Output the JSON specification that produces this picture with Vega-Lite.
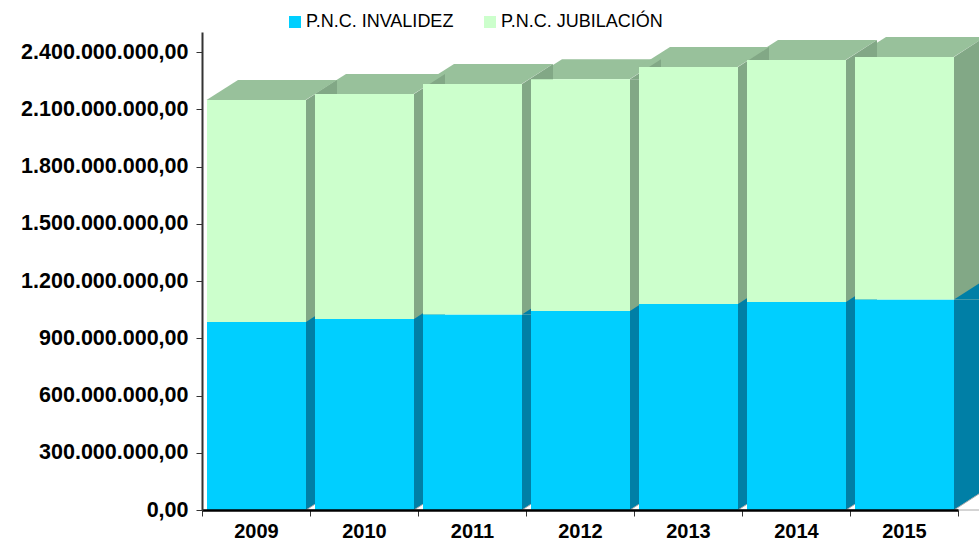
{
"$schema":"https://vega.github.io/schema/vega-lite/v6.json",
"width":756,"height":478,
"padding":{"left":202,"top":32,"right":21,"bottom":32},
"autosize":{"type":"none"},
"background":"white",
"config":{"view":{"stroke":null}},
"data":{"values":[
{"year":"2009","serie":"P.N.C. INVALIDEZ","value":985000000},{"year":"2009","serie":"P.N.C. JUBILACIÓN","value":1163000000},
{"year":"2010","serie":"P.N.C. INVALIDEZ","value":1001000000},{"year":"2010","serie":"P.N.C. JUBILACIÓN","value":1179000000},
{"year":"2011","serie":"P.N.C. INVALIDEZ","value":1024000000},{"year":"2011","serie":"P.N.C. JUBILACIÓN","value":1208000000},
{"year":"2012","serie":"P.N.C. INVALIDEZ","value":1043000000},{"year":"2012","serie":"P.N.C. JUBILACIÓN","value":1215000000},
{"year":"2013","serie":"P.N.C. INVALIDEZ","value":1079000000},{"year":"2013","serie":"P.N.C. JUBILACIÓN","value":1242000000},
{"year":"2014","serie":"P.N.C. INVALIDEZ","value":1090000000},{"year":"2014","serie":"P.N.C. JUBILACIÓN","value":1268000000},
{"year":"2015","serie":"P.N.C. INVALIDEZ","value":1103000000},{"year":"2015","serie":"P.N.C. JUBILACIÓN","value":1271000000}
]},
"transform":[{"stack":"value","groupby":["year"],"sort":[{"field":"serie","order":"ascending"}],"as":["y0","y1"]}],
"encoding":{
"x":{"field":"year","type":"ordinal","scale":{"type":"band","paddingInner":0,"paddingOuter":0},"title":null,
"axis":{"labelAngle":0,"tickBand":"extent","labelFont":"Liberation Sans","labelFontWeight":"bold","labelFontSize":20,"labelColor":"#000","labelPadding":5,"tickColor":"#333","tickSize":6,"tickWidth":1,"domainColor":"#000","domainWidth":2.5,"zindex":1}},
"y":{"field":"y1","type":"quantitative","scale":{"domain":[0,2505000000],"nice":false},"title":null,
"axis":{"values":[0,300000000,600000000,900000000,1200000000,1500000000,1800000000,2100000000,2400000000],"labelExpr":"replace(replace(replace(format(datum.value,',.2f'),/,/g,'_'),'.',','),/_/g,'.')","labelFont":"Liberation Sans","labelFontWeight":"bold","labelFontSize":21.5,"labelColor":"#000","labelPadding":8,"tickColor":"#333","tickSize":6,"tickWidth":1,"domainColor":"#333","domainWidth":2,"grid":false,"zindex":1}}
},
"layer":[
{"transform":[{"filter":"datum.serie==='P.N.C. JUBILACIÓN'"}],
 "mark":{"type":"point","shape":"M-49.5,0 L49.5,0 L81,-20 L-18,-20 Z","size":4,"filled":true,"opacity":1,"color":"#98c19b"}},
{"mark":{"type":"bar","width":31,"xOffset":65.5},
 "encoding":{"y2":{"field":"y0"},"color":{"condition":{"test":"datum.serie==='P.N.C. INVALIDEZ'","value":"#007fa6"},"value":"#82a886"}}},
{"mark":{"type":"point","shape":"M50,0 L81,0 L81,-20 Z","size":4,"filled":true,"opacity":1},
 "encoding":{"color":{"condition":{"test":"datum.serie==='P.N.C. INVALIDEZ'","value":"#007fa6"},"value":"#82a886"}}},
{"transform":[{"filter":"datum.serie==='P.N.C. INVALIDEZ'"}],
 "mark":{"type":"point","shape":"M50,0 L81,0 L81,-20 Z","size":4,"filled":true,"opacity":1,"color":"#ffffff","stroke":"#aaaaaa","strokeWidth":1},
 "encoding":{"y":{"datum":0}}},
{"mark":{"type":"bar","width":99,"xOffset":0.5},
 "encoding":{"y2":{"field":"y0"},
 "color":{"field":"serie","type":"nominal","scale":{"domain":["P.N.C. INVALIDEZ","P.N.C. JUBILACIÓN"],"range":["#00cfff","#ccffcc"]},
 "legend":{"title":null,"orient":"none","legendX":84,"legendY":-19,"direction":"horizontal","columns":2,"symbolType":"square","symbolSize":144,"symbolStrokeWidth":0,"symbolOpacity":1,"labelFont":"Liberation Sans","labelFontSize":18,"labelFontWeight":"normal","labelColor":"#000","labelOffset":2,"columnPadding":27,"labelLimit":220,"padding":0}}}}
]
}
